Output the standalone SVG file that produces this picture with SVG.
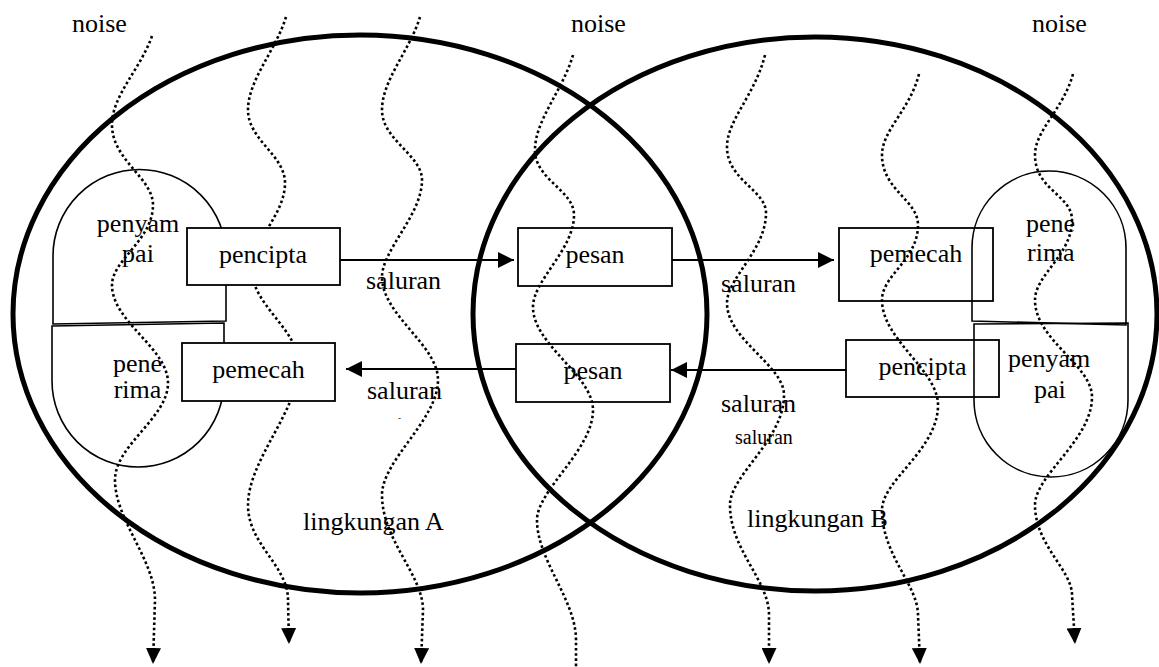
<svg xmlns="http://www.w3.org/2000/svg" width="1159" height="667" viewBox="0 0 1159 667" font-family="'Liberation Serif', 'Times New Roman', serif">
<style>
text{font-family:'Liberation Serif','Times New Roman',serif;font-size:26px;fill:#000}
.mid{text-anchor:middle}
.small{font-size:20px}
.env{fill:none;stroke:#000;stroke-width:5}
.pill{fill:none;stroke:#000;stroke-width:1.6}
.box{fill:none;stroke:#000;stroke-width:1.8}
.opaque{fill:#fff}
.conn{fill:none;stroke:#000;stroke-width:2}
.noise{fill:none;stroke:#000;stroke-width:2.6;stroke-dasharray:2.6 2.6}
</style>
<defs>
<marker id="ah" markerUnits="userSpaceOnUse" markerWidth="16" markerHeight="16" refX="16" refY="8" orient="auto"><path d="M0,0 L16,8 L0,16 Z" fill="#000"/></marker>
<marker id="nh" markerUnits="userSpaceOnUse" markerWidth="16" markerHeight="15" refX="16" refY="7.5" orient="auto"><path d="M0,0 L16,7.5 L0,15 Z" fill="#000"/></marker>
</defs>
<rect width="1159" height="667" fill="#fff"/>
<g id="lingkunganA"><ellipse class="env" cx="360" cy="314" rx="347" ry="279"/><text x="303" y="530">lingkungan A</text></g>
<g id="lingkunganB"><ellipse class="env" cx="815" cy="314" rx="342" ry="277"/><text x="747" y="527">lingkungan B</text></g>
<g id="noise-lines">
<path class="noise" marker-end="url(#nh)" d="M152,36 C140,70 112,95 112,125 C112,160 153,178 153,205 C153,240 112,260 112,285 C112,322 168,348 168,383 C168,418 115,445 115,480 C115,520 155,560 155,600 L153,664"/>
<path class="noise" marker-end="url(#nh)" d="M286,17 C276,50 248,80 248,110 C248,140 285,155 285,183 C285,215 252,240 252,270 C252,305 299,330 299,365 C299,410 248,460 248,505 C248,545 288,565 288,600 L289,644"/>
<path class="noise" marker-end="url(#nh)" d="M420,17 C410,50 382,80 382,110 C382,140 422,155 422,180 C422,215 382,250 382,277 C382,315 438,345 438,380 C438,420 382,460 382,495 C382,540 423,575 423,610 L421,664"/>
<path class="noise" d="M573,55 C563,90 535,120 535,150 C535,180 574,190 574,215 C574,250 533,280 533,307 C533,345 593,375 593,410 C593,450 537,490 537,520 C537,560 576,600 576,640 L576,667"/>
<path class="noise" marker-end="url(#nh)" d="M765,55 C755,95 727,120 727,147 C727,180 766,190 766,213 C766,250 727,278 727,303 C727,340 784,365 784,395 C784,440 730,475 730,505 C730,550 769,580 769,615 L769,664"/>
<path class="noise" marker-end="url(#nh)" d="M919,74 C910,110 882,130 882,155 C882,190 918,200 918,225 C918,260 882,275 882,300 C882,340 938,370 938,405 C938,450 882,480 882,510 C882,555 918,585 918,615 L920,664"/>
<path class="noise" marker-end="url(#nh)" d="M1073,74 C1063,110 1035,130 1035,155 C1035,190 1072,195 1072,220 C1072,255 1035,275 1035,300 C1035,340 1092,365 1092,397 C1092,440 1035,475 1035,505 C1035,545 1072,570 1072,595 L1075,644"/>
</g>
<g id="noise-labels"><text x="72" y="32">noise</text><text x="571" y="32">noise</text><text x="1032" y="32">noise</text></g>
<g id="penyampaiA"><path class="pill" d="M53,324 L53,256 A86.5,86.5 0 0 1 226,256 L226,321 Z"/><text class="mid" x="138" y="232">penyam</text><text class="mid" x="138" y="262">pai</text></g>
<g id="penerimaA"><path class="pill" d="M52,326 L224,323 L224,381 A86,86 0 0 1 52,381 Z"/><text class="mid" x="137.5" y="372">pene</text><text class="mid" x="137.5" y="398">rima</text></g>
<g id="penerimaB"><path class="pill" d="M972,321 L972,248 A77,77 0 0 1 1126,248 L1126,325 Z"/><text x="1026" y="232">pene</text><text x="1027" y="261">rima</text></g>
<g id="penyampaiB"><path class="pill" d="M974,324 L1128,323 L1128,400 A77,77 0 0 1 974,400 Z"/><text x="1008" y="367">penyam</text><text x="1034" y="398">pai</text></g>
<g id="penciptaA"><rect class="box opaque" x="187" y="228" width="153" height="57"/><text class="mid" x="263" y="263">pencipta</text></g>
<g id="pemecahA"><rect class="box opaque" x="182" y="343" width="153" height="58"/><text class="mid" x="258.5" y="378">pemecah</text></g>
<g id="pesanTop"><rect class="box" x="518" y="228" width="154" height="58"/><text class="mid" x="595" y="263">pesan</text></g>
<g id="pesanBottom"><rect class="box" x="516" y="344" width="154" height="58"/><text class="mid" x="593" y="379">pesan</text></g>
<g id="pemecahB"><rect class="box" x="839" y="228" width="154" height="73"/><text class="mid" x="916" y="262">pemecah</text></g>
<g id="penciptaB"><rect class="box" x="846" y="340" width="153" height="57"/><text class="mid" x="922.5" y="375">pencipta</text></g>
<g id="connectors">
<line class="conn" x1="340" y1="260" x2="514" y2="260" marker-end="url(#ah)"/>
<line class="conn" x1="672" y1="260" x2="834" y2="260" marker-end="url(#ah)"/>
<line class="conn" x1="516" y1="369" x2="346" y2="369" marker-end="url(#ah)"/>
<line class="conn" x1="846" y1="370" x2="671" y2="370" marker-end="url(#ah)"/>
<text x="366" y="289">saluran</text>
<text x="367" y="399">saluran</text>
<text x="398" y="421" style="font-size:9px">-</text>
<text x="721" y="292">saluran</text>
<text x="721" y="412">saluran</text>
<text class="small" x="735" y="444">saluran</text>
</g>
</svg>
